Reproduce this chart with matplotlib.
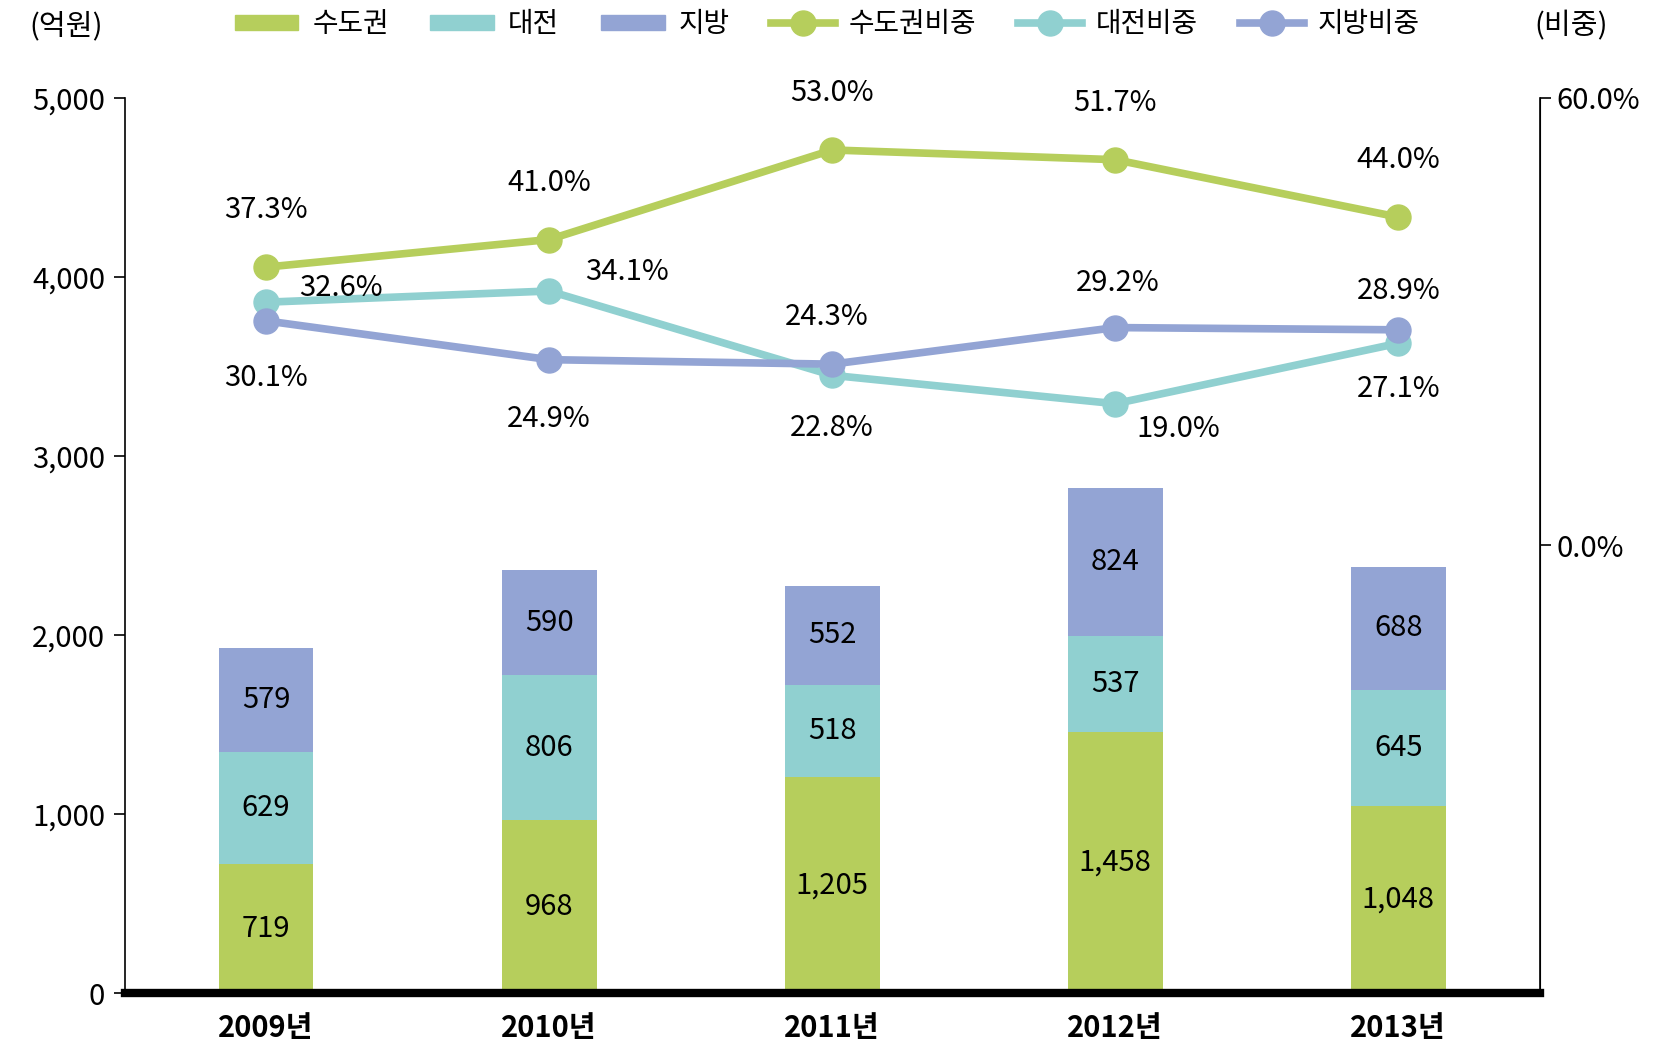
import numpy as np
import matplotlib.pyplot as plt
from matplotlib.patches import Patch
from matplotlib.lines import Line2D

plt.rcParams['font.family'] = ['Noto Sans CJK KR', 'DejaVu Sans']

years = ['2009년', '2010년', '2011년', '2012년', '2013년']
capital = [719, 968, 1205, 1458, 1048]     # 수도권
daejeon = [629, 806, 518, 537, 645]        # 대전
local = [579, 590, 552, 824, 688]          # 지방
capital_pct = [37.3, 41.0, 53.0, 51.7, 44.0]
daejeon_pct = [32.6, 34.1, 22.8, 19.0, 27.1]
local_pct = [30.1, 24.9, 24.3, 29.2, 28.9]

c_green = '#B6CE5C'
c_teal = '#90D0D0'
c_blue = '#93A4D4'

fig = plt.figure(figsize=(16.54, 10.51), dpi=100)
ax = fig.add_axes([0.0753, 0.055, 0.8557, 0.852])
ax2 = ax.twinx()

x = np.arange(len(years))
w = 0.335
b1 = np.array(capital)
b2 = b1 + np.array(daejeon)
ax.bar(x, capital, w, color=c_green, zorder=2)
ax.bar(x, daejeon, w, bottom=b1, color=c_teal, zorder=2)
ax.bar(x, local, w, bottom=b2, color=c_blue, zorder=2)

fs = 21
for i in range(len(x)):
    ax.text(x[i], capital[i] / 2, format(capital[i], ','), ha='center', va='center', fontsize=fs)
    ax.text(x[i], b1[i] + daejeon[i] / 2, format(daejeon[i], ','), ha='center', va='center', fontsize=fs)
    ax.text(x[i], b2[i] + local[i] / 2, format(local[i], ','), ha='center', va='center', fontsize=fs)

ax.set_xlim(-0.5, 4.5)
ax.set_ylim(0, 5000)
ax.set_yticks([0, 1000, 2000, 3000, 4000, 5000])
ax.set_yticklabels(['0', '1,000', '2,000', '3,000', '4,000', '5,000'], fontsize=fs)
ax.set_xticks(x)
ax.set_xticklabels(years, fontsize=fs, fontweight='bold')
ax.tick_params(axis='x', length=0, pad=14)
ax.tick_params(axis='y', length=8, width=1.2, pad=6)

ax.spines['top'].set_visible(False)
ax.spines['bottom'].set_linewidth(6)
ax.spines['left'].set_linewidth(1.2)
ax2.spines['top'].set_visible(False)
ax2.spines['left'].set_visible(False)
ax2.spines['bottom'].set_visible(False)
ax2.spines['right'].set_linewidth(1.2)

lk = dict(lw=5.5, marker='o', markersize=18, zorder=3)
ax2.plot(x, capital_pct, color=c_green, **lk)
ax2.plot(x, daejeon_pct, color=c_teal, **lk)
ax2.plot(x, local_pct, color=c_blue, **lk)
ax2.set_ylim(-60, 60)
ax2.set_yticks([0, 60])
ax2.set_yticklabels(['0.0%', '60.0%'], fontsize=fs)
ax2.tick_params(axis='y', length=8, width=1.2, pad=4)

# label offsets (points)
cap_off = [(0, 41)] * 5
dj_off = [(54, 10), (56, 14), (0, -38), (45, -18), (0, -33)]
lo_off = [(0, -41), (0, -43), (-4, 34), (2, 32), (0, 28)]
for vals, offs in [(capital_pct, cap_off), (daejeon_pct, dj_off), (local_pct, lo_off)]:
    for i in range(len(x)):
        ax2.annotate(f'{vals[i]:.1f}%', (x[i], vals[i]), xytext=offs[i], textcoords='offset points',
                     ha='center', va='center', fontsize=fs)

fig.text(0.018, 0.975, '(억원)', fontsize=fs, ha='left', va='center')
fig.text(0.972, 0.975, '(비중)', fontsize=fs, ha='right', va='center')

handles = [Patch(color=c_green), Patch(color=c_teal), Patch(color=c_blue),
           Line2D([], [], color=c_green, lw=5.5, marker='o', markersize=18),
           Line2D([], [], color=c_teal, lw=5.5, marker='o', markersize=18),
           Line2D([], [], color=c_blue, lw=5.5, marker='o', markersize=18)]
labels = ['수도권', '대전', '지방', '수도권비중', '대전비중', '지방비중']
fig.legend(handles, labels, loc='center', bbox_to_anchor=(0.5, 0.977), ncol=6, frameon=False,
           fontsize=20, handlelength=2.3, handleheight=0.45, columnspacing=1.5, handletextpad=0.5)

fig.savefig('out.png', dpi=100)
